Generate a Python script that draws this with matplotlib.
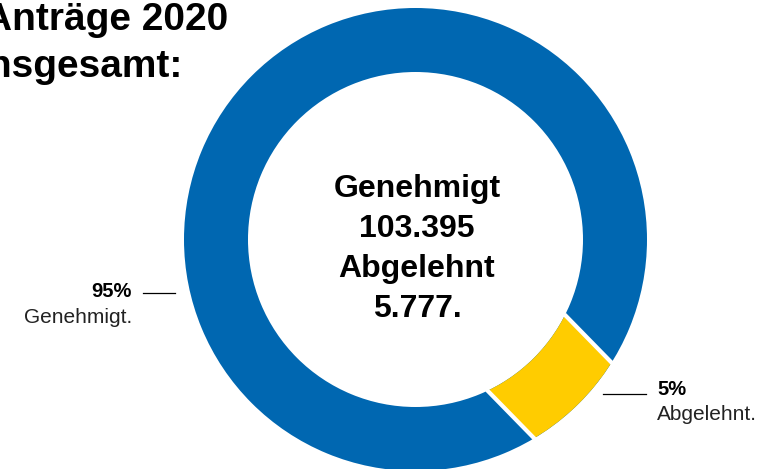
import numpy as np
import matplotlib
matplotlib.use("Agg")
import matplotlib.pyplot as plt
from matplotlib.patches import Wedge, Polygon

plt.rcParams['font.family'] = ['Liberation Sans', 'DejaVu Sans']

# data
categories = ["Genehmigt", "Abgelehnt"]
counts = [103395, 5777]
percent_labels = ["95%", "5%"]
# slice sizes as they are drawn in the picture (percent of the ring)
drawn_share = [91.25, 8.75]

title_lines = ["Anträge 2020", "insgesamt:"]
center_lines = ["Genehmigt", "103.395", "Abgelehnt", "5.777."]

blue = "#0067B1"
yellow = "#FFCC00"

fig = plt.figure(figsize=(7.69, 4.69), dpi=100)
ax = fig.add_axes([0, 0, 1, 1])
ax.set_xlim(0, 769)
ax.set_ylim(0, 469)
ax.axis("off")

# ring geometry (pixel units)
cx, cy = 415.5, 229.5
R, r = 231.5, 167.5
rm = (R + r) / 2
yellow_mid = -45.65

# blue ring
ax.add_patch(Wedge((cx, cy), R, 0, 360, width=R - r, facecolor=blue, lw=0))

# yellow slice, cut by lines parallel to its bisector
span = 360 * drawn_share[1] / 100
half = rm * np.sin(np.radians(span / 2))
d = np.array([np.cos(np.radians(yellow_mid)), np.sin(np.radians(yellow_mid))])
n = np.array([-d[1], d[0]])
c = np.array([cx, cy])
L = R + 30
band = Polygon([c - half * n, c - half * n + L * d, c + half * n + L * d, c + half * n],
               closed=True, transform=ax.transData)
yw = Wedge((cx, cy), R, yellow_mid - span, yellow_mid + span, width=R - r,
           facecolor=yellow, lw=0)
ax.add_patch(yw)
yw.set_clip_path(band)

for s in (-half, half):
    p0 = c + s * n + (r - 10) * d
    p1 = c + s * n + (R + 10) * d
    ax.plot([p0[0], p1[0]], [p0[1], p1[1]], color="white", lw=3.0, solid_capstyle="butt")

# title (cut off at the left edge like the original)
ax.text(228, 439, title_lines[0], ha="right", va="baseline", fontsize=28, fontweight="bold")
ax.text(183, 392, title_lines[1], ha="right", va="baseline", fontsize=28, fontweight="bold")

# centre text
for i, line in enumerate(center_lines):
    ax.text(417, 272 - i * 40, line, ha="center", va="baseline", fontsize=23, fontweight="bold")

# side labels
ax.text(132, 172, percent_labels[0], ha="right", va="baseline", fontsize=14.5, fontweight="bold")
ax.text(132, 146, categories[0] + ".", ha="right", va="baseline", fontsize=15, color="#222222")
ax.plot([143, 175], [176, 176], color="black", lw=0.9)

ax.text(657, 74, percent_labels[1], ha="left", va="baseline", fontsize=14.5, fontweight="bold")
ax.text(657, 49, categories[1] + ".", ha="left", va="baseline", fontsize=15, color="#222222")
ax.plot([603, 646], [75, 75], color="black", lw=0.9)

fig.savefig("out.png", dpi=100)
